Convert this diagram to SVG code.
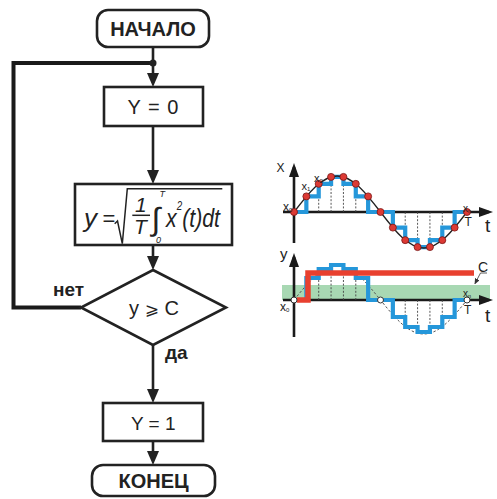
<svg xmlns="http://www.w3.org/2000/svg" width="497" height="499" viewBox="0 0 497 499">
<style>
.box{fill:#fff;stroke:#222;stroke-width:2.6}
.ln{fill:none;stroke:#222;stroke-width:2.6}
.loop{fill:none;stroke:#1a1a1a;stroke-width:4}
.tb{font-family:"Liberation Sans",Arial,sans-serif;font-weight:bold;fill:#222}
.tn{font-family:"Liberation Sans",Arial,sans-serif;fill:#222}
.ti{font-family:"Liberation Sans",Arial,sans-serif;font-style:italic;fill:#222}
.ax{fill:none;stroke:#1a1a1a;stroke-width:2.6}
.crv{fill:none;stroke:#222;stroke-width:1.3}
.dcrv{fill:none;stroke:#555;stroke-width:1;stroke-dasharray:2.5 2}
.dsh{fill:none;stroke:#444;stroke-width:0.9;stroke-dasharray:2 1.6}
.blue{fill:none;stroke:#2597da;stroke-width:4.2}
.red{fill:none;stroke:#e8402f;stroke-width:5.5}
.dot{fill:#dc3a34;stroke:#7a1515;stroke-width:0.8}
.odot{fill:#fff;stroke:#333;stroke-width:1}
.lbl{font-family:"Liberation Sans",Arial,sans-serif;fill:#222}
</style>
<defs>
<marker id="ah" markerUnits="userSpaceOnUse" markerWidth="14" markerHeight="12" viewBox="0 0 14 12" refX="10" refY="6" orient="auto"><path d="M0,0 L14,6 L0,12 z" fill="#222"/></marker>
<marker id="gah" markerUnits="userSpaceOnUse" markerWidth="14" markerHeight="10" viewBox="0 0 14 10" refX="10" refY="5" orient="auto"><path d="M0,0 L14,5 L0,10 z" fill="#1a1a1a"/></marker>
<marker id="sah" markerUnits="userSpaceOnUse" markerWidth="6" markerHeight="5" viewBox="0 0 6 5" refX="5" refY="2.5" orient="auto"><path d="M0,0 L6,2.5 L0,5 z" fill="#333"/></marker>
</defs>

<g id="connectors">
<line class="ln" x1="153" y1="47" x2="153" y2="63"/>
<polyline class="loop" points="81,307.5 13.5,307.5 13.5,63 153,63"/>
<circle cx="153" cy="63" r="3.5" fill="#222"/>
<line class="ln" x1="153" y1="63" x2="153" y2="83" marker-end="url(#ah)"/>
<line class="ln" x1="153" y1="126" x2="153" y2="180" marker-end="url(#ah)"/>
<line class="ln" x1="153" y1="245" x2="153" y2="266" marker-end="url(#ah)"/>
<line class="ln" x1="153" y1="345" x2="153" y2="399" marker-end="url(#ah)"/>
<line class="ln" x1="153" y1="441" x2="153" y2="461" marker-end="url(#ah)"/>
<text class="tb" x="53" y="296" font-size="19">нет</text>
<text class="tb" x="165" y="359" font-size="19">да</text>
</g>

<g id="start">
<rect class="box" x="97" y="10" width="112" height="37" rx="11"/>
<text class="tb" x="153" y="35.5" font-size="20" text-anchor="middle">НАЧАЛО</text>
</g>

<g id="init">
<rect class="box" x="104" y="87" width="99" height="39"/>
<text class="tn" x="153.5" y="114" font-size="20" text-anchor="middle" letter-spacing="1">Y = 0</text>
</g>

<g id="compute">
<rect class="box" x="75" y="184" width="157" height="61"/>
<text class="ti" x="84" y="227" font-size="26">y</text>
<text class="tn" x="102.5" y="226" font-size="22">=</text>
<polyline fill="none" stroke="#222" stroke-width="1.5" points="114.7,223.7 117.5,221 122.3,243.7 127.3,188.7 222.3,188.7"/>
<text class="ti" x="135" y="212" font-size="21">1</text>
<line x1="132.3" y1="215.3" x2="150" y2="215.3" stroke="#222" stroke-width="1.5"/>
<text class="ti" x="134" y="233.5" font-size="21">T</text>
<text class="tn" x="151.5" y="230" font-size="32">∫<tspan class="ti" x="159.5" y="196.5" font-size="9">T</tspan><tspan class="ti" x="156" y="243" font-size="9">0</tspan></text>
<text class="ti" font-size="26" transform="translate(166,227) scale(0.82,1)">x<tspan font-size="12" dy="-17">2</tspan><tspan dy="17">(t)dt</tspan></text>
</g>

<g id="decision">
<polygon class="box" points="153,270 226,307.5 153,345 81,307.5"/>
<text class="tn" x="154" y="314.5" font-size="20" text-anchor="middle">y <tspan font-family="DejaVu Sans,sans-serif" font-size="17">⩾</tspan> C</text>
</g>

<g id="set1">
<rect class="box" x="103" y="403" width="100" height="38"/>
<text class="tn" x="153.3" y="429.5" font-size="19" text-anchor="middle">Y = 1</text>
</g>

<g id="end">
<rect class="box" x="92" y="465" width="123" height="31" rx="11"/>
<text class="tb" x="153.5" y="488" font-size="20" text-anchor="middle">КОНЕЦ</text>
</g>

<g id="graph-x">
<line class="ax" x1="294" y1="243" x2="294" y2="167" marker-end="url(#gah)"/>
<line class="ax" x1="283" y1="212" x2="489" y2="212" marker-end="url(#gah)"/>
<g class="dsh">
<line x1="318.71" y1="212" x2="318.71" y2="196"/>
<line x1="331.07" y1="212" x2="331.07" y2="184"/>
<line x1="343.43" y1="212" x2="343.43" y2="184"/>
<line x1="355.79" y1="212" x2="355.79" y2="196"/>
<line x1="405.21" y1="212" x2="405.21" y2="228"/>
<line x1="417.57" y1="212" x2="417.57" y2="240"/>
<line x1="429.93" y1="212" x2="429.93" y2="240"/>
<line x1="442.29" y1="212" x2="442.29" y2="228"/>
</g>
<path class="blue" d="M294,212 H306.36 V196.38 H318.71 V183.86 H331.07 V176.9 H343.43 V183.86 H355.79 V196.38 H368.14 V212 H392.86 V227.62 H405.21 V240.14 H417.57 V247.1 H429.93 V240.14 H442.29 V227.62 H454.64 V212 H467"/>
<path class="crv" d="M294,212 C308.46,193.1 321.68,176 337.25,176 C352.82,176 366.04,193.1 380.5,212 C394.96,230.9 408.18,248 423.75,248 C439.32,248 452.54,230.9 467,212"/>
<g class="dot">
<circle cx="294" cy="212" r="3.5"/>
<circle cx="306.36" cy="196.38" r="3.5"/>
<circle cx="318.71" cy="183.86" r="3.5"/>
<circle cx="331.07" cy="176.9" r="3.5"/>
<circle cx="343.43" cy="176.9" r="3.5"/>
<circle cx="355.79" cy="183.86" r="3.5"/>
<circle cx="368.14" cy="196.38" r="3.5"/>
<circle cx="380.5" cy="212" r="3.5"/>
<circle cx="392.86" cy="227.62" r="3.5"/>
<circle cx="405.21" cy="240.14" r="3.5"/>
<circle cx="417.57" cy="247.1" r="3.5"/>
<circle cx="429.93" cy="247.1" r="3.5"/>
<circle cx="442.29" cy="240.14" r="3.5"/>
<circle cx="454.64" cy="227.62" r="3.5"/>
<circle cx="467" cy="212" r="3.5"/>
</g>
<text class="lbl" x="276.5" y="172" font-size="12">X</text>
<text class="lbl" x="301.5" y="190" font-size="11">x<tspan font-size="6" dy="1">1</tspan></text>
<text class="lbl" x="314" y="181.5" font-size="11">x<tspan font-size="6" dy="1">2</tspan></text>
<text class="lbl" x="283" y="211" font-size="12">x<tspan font-size="6" dy="1">0</tspan></text>
<text class="lbl" x="463" y="211.5" font-size="10">x<tspan font-size="5.5" dy="1">n</tspan></text>
<text class="lbl" x="464.5" y="226" font-size="12">T</text>
<text class="lbl" x="485" y="232" font-size="19">t</text>
</g>

<g id="graph-y">
<rect x="282" y="285" width="208" height="15" fill="#a8d8b3"/>
<line class="ax" x1="294" y1="337" x2="294" y2="257" marker-end="url(#gah)"/>
<line class="ax" x1="283" y1="300" x2="489" y2="300" marker-end="url(#gah)"/>
<path class="dcrv" d="M294,300 C308.46,282.15 321.68,266 337.25,266 C352.82,266 366.04,282.15 380.5,300 C394.96,317.85 408.18,334 423.75,334 C439.32,334 452.54,317.85 467,300"/>
<g class="dsh">
<line x1="318.71" y1="300" x2="318.71" y2="278"/>
<line x1="331.07" y1="300" x2="331.07" y2="269"/>
<line x1="343.43" y1="300" x2="343.43" y2="269"/>
<line x1="355.79" y1="300" x2="355.79" y2="278"/>
<line x1="405.21" y1="300" x2="405.21" y2="317"/>
<line x1="417.57" y1="300" x2="417.57" y2="327"/>
<line x1="429.93" y1="300" x2="429.93" y2="327"/>
<line x1="442.29" y1="300" x2="442.29" y2="317"/>
</g>
<path class="blue" d="M294,300 H306.36 V278 H318.71 V269 H331.07 V265 H343.43 V269 H355.79 V278 H368.14 V300 H392.86 V317 H405.21 V327 H417.57 V332 H429.93 V327 H442.29 V317 H454.64 V300 H467"/>
<path class="red" d="M297,300 H308 V273 H474"/>
<circle class="odot" cx="294" cy="300" r="3"/>
<circle class="odot" cx="380.5" cy="300" r="3"/>
<circle class="odot" cx="467" cy="300" r="3"/>
<text class="lbl" x="280" y="259" font-size="15">y</text>
<text class="lbl" x="280" y="311" font-size="12">x<tspan font-size="6" dy="1">0</tspan></text>
<text class="lbl" x="463" y="296.5" font-size="10">x<tspan font-size="5.5" dy="1">n</tspan></text>
<text class="lbl" x="464" y="314" font-size="12">T</text>
<text class="lbl" x="485" y="322" font-size="19">t</text>
<text class="lbl" x="478" y="272" font-size="14">C</text>
<polyline fill="none" stroke="#333" stroke-width="0.8" points="487,273 480.5,273 475,283.5" marker-end="url(#sah)"/>
</g>
</svg>
